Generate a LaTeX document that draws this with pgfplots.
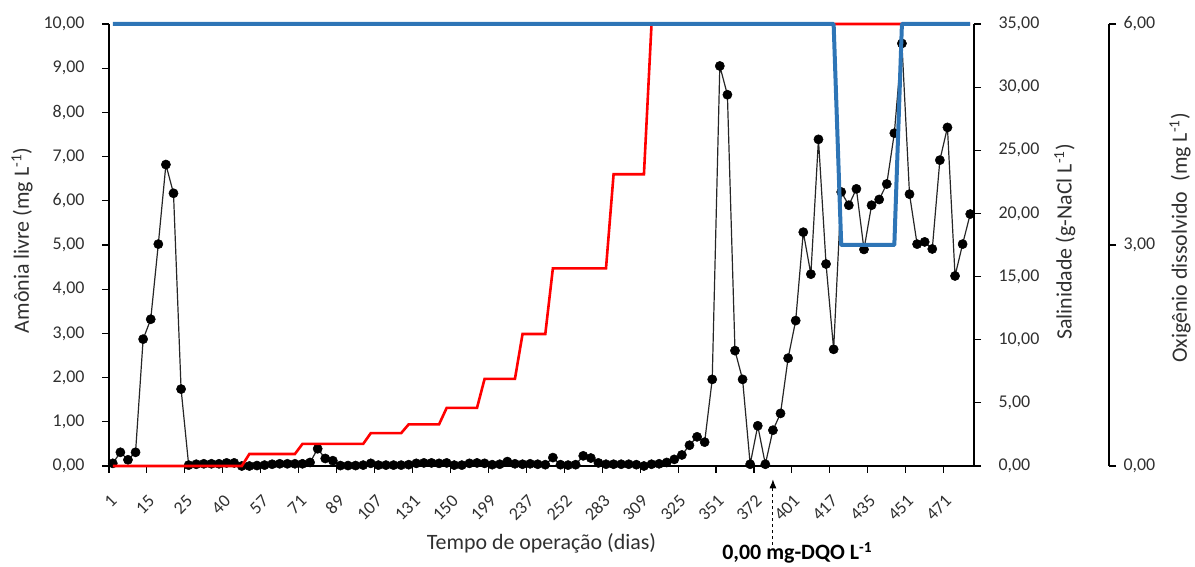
\documentclass[border=0pt]{standalone}
\usepackage{pgfplots}
\usepackage{pgfplotstable}
\pgfplotsset{compat=1.18}
\usepackage{fontspec}
\setmainfont{Carlito}
\usetikzlibrary{arrows.meta}
\definecolor{xblue}{HTML}{2E75B6}
\definecolor{txt}{HTML}{303030}

\pgfplotstableread{
i v
0 0.06
1 0.31
2 0.14
3 0.31
4 2.87
5 3.32
6 5.02
7 6.82
8 6.17
9 1.74
10 0.02
11 0.04
12 0.05
13 0.05
14 0.05
15 0.07
16 0.07
17 0.00
18 0.00
19 0.01
20 0.02
21 0.04
22 0.05
23 0.05
24 0.05
25 0.05
26 0.08
27 0.39
28 0.17
29 0.12
30 0.01
31 0.01
32 0.01
33 0.02
34 0.06
35 0.02
36 0.02
37 0.02
38 0.02
39 0.03
40 0.06
41 0.07
42 0.07
43 0.06
44 0.07
45 0.02
46 0.02
47 0.06
48 0.07
49 0.06
50 0.03
51 0.04
52 0.10
53 0.05
54 0.04
55 0.05
56 0.04
57 0.03
58 0.19
59 0.03
60 0.02
61 0.03
62 0.23
63 0.18
64 0.07
65 0.04
66 0.04
67 0.04
68 0.04
69 0.03
70 0.00
71 0.04
72 0.05
73 0.08
74 0.15
75 0.25
76 0.47
77 0.66
78 0.54
79 1.96
80 9.05
81 8.40
82 2.61
83 1.96
84 0.04
85 0.91
86 0.04
87 0.81
88 1.19
89 2.44
90 3.29
91 5.29
92 4.34
93 7.39
94 4.57
95 2.64
96 6.20
97 5.90
98 6.27
99 4.90
100 5.90
101 6.03
102 6.38
103 7.53
104 9.56
105 6.15
106 5.02
107 5.07
108 4.91
109 6.92
110 7.66
111 4.30
112 5.02
113 5.70
}\amonia

\pgfplotstableread{
i s
0 0
17 0
18 0.95
24 0.95
25 1.75
33 1.75
34 2.6
38 2.6
39 3.3
43 3.3
44 4.6
48 4.6
49 6.9
53 6.9
54 10.45
57 10.45
58 15.65
65 15.65
66 23.1
70 23.1
71 35
113 35
}\sal

\pgfplotstableread{
i o
0 6
95 6
96 3
103 3
104 6
113 6
}\oxi

\pgfplotsset{
  base/.style={
    width=865bp, height=442bp, scale only axis,
    xmin=-0.5, xmax=113.5,
    at={(0,0)}, anchor=south west,
    axis line style={-, line width=1.2bp, black},
    tick style={line width=1.1bp, black},
    major tick length=7bp,
    minor tick length=7bp,
    tick align=outside,
    tick label style={font=\fontsize{18}{20}\selectfont, text=txt},
    label style={font=\fontsize{22}{24}\selectfont, text=txt},
    /pgf/number format/.cd, fixed, fixed zerofill, precision=2, use comma, 1000 sep={}, assume math mode=true,
  }
}

\begin{document}
\begin{tikzpicture}
% main axis: free ammonia
\begin{axis}[base,
  ymin=0, ymax=10,
  axis x line*=bottom, axis y line*=left,
  ytick={0,1,...,10},
  yticklabel style={xshift=-14bp},
  xtick={0,5,...,110},
  xticklabels={1,15,25,40,57,71,89,107,131,150,199,237,252,283,309,325,351,372,401,417,435,451,471},
  major x tick style={draw=none},
  minor xtick={-0.5,4.5,...,109.5},
  minor x tick style={draw=black, line width=1.1bp},
  xticklabel style={xshift=1bp, yshift=-25bp, rotate=45, anchor=east, inner sep=0pt},
  ylabel={Amônia livre (mg L\textsuperscript{-1})},
  ylabel style={at={(axis description cs:-0.1006,0.51)}, anchor=center, rotate=0},
  xlabel={Tempo de operação (dias)},
  xlabel style={at={(axis description cs:0.5,-0.174)}, anchor=center},
  clip=false,
]
\addplot[black!85, line width=1.2bp, mark=*, mark size=4.6bp, mark options={fill=black, draw=black, line width=0.5bp}] table[x=i, y=v] {\amonia};
\draw[dashed, line width=1bp, -{Latex[length=9bp,width=7bp]}] (axis cs:87,-1.79) -- (axis cs:87,-0.3);
\node[font=\fontsize{22}{24}\selectfont\bfseries, text=black, anchor=center] at (axis cs:90.2,-1.97) {0,00 mg-DQO L\textsuperscript{-1}};
\end{axis}

% salinity axis
\begin{axis}[base,
  ymin=0, ymax=35,
  axis y line*=right, axis x line=none,
  ytick={0,5,...,35},
  yticklabel style={xshift=14bp},
  ylabel={Salinidade (g-NaCl L\textsuperscript{-1})},
  ylabel style={at={(axis description cs:1.105,0.507)}, anchor=center, rotate=0},
  clip=false,
]
\addplot[red, line width=2.6bp, no markers] table[x=i, y=s] {\sal};
\end{axis}

% dissolved oxygen series
\begin{axis}[base, ymin=0, ymax=6, hide axis, clip=false]
\addplot[xblue, line width=4bp, no markers, line join=round] table[x=i, y=o] {\oxi};
\end{axis}

% dissolved oxygen axis (offset)
\begin{axis}[base, at={(135bp,0)},
  ymin=0, ymax=6,
  axis y line*=right, axis x line=none,
  ytick={0,3,6},
  yticklabel style={xshift=4bp},
  ylabel={Oxigênio dissolvido\ \ (mg L\textsuperscript{-1})},
  ylabel style={at={(axis description cs:1.082,0.516)}, anchor=center, rotate=0, inner sep=0pt},
]
\end{axis}

\pgfresetboundingbox
\path[use as bounding box] (-109bp,-101bp) rectangle (1086bp,466bp);
\end{tikzpicture}
\end{document}
